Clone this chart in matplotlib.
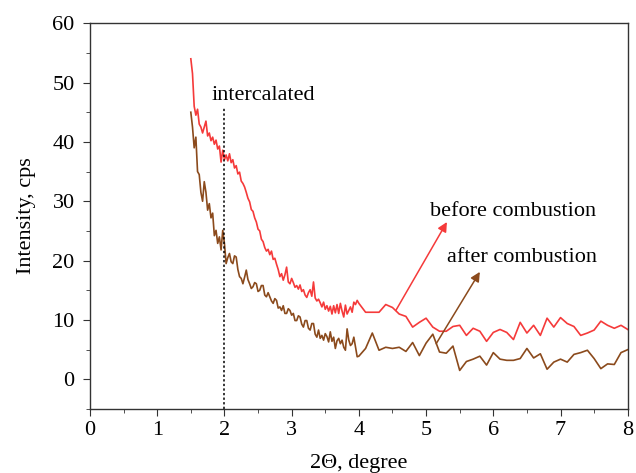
import numpy as np
import matplotlib
matplotlib.use("Agg")
import matplotlib.pyplot as plt
from matplotlib.ticker import MultipleLocator

plt.rcParams['font.family'] = ['Liberation Serif', 'DejaVu Serif']

# dense scan 1.5 - 4.0 deg, step 0.025
x_dense = np.linspace(1.5, 4.0, 101)
before_dense = [
    54.0, 51.5, 46.0, 44.5, 45.5, 43.0, 42.5, 41.5, 42.5, 43.5,
    41.0, 41.5, 40.2, 40.8, 39.6, 40.3, 38.8, 39.3, 36.6, 38.6,
    37.0, 37.8, 36.8, 38.0, 36.5, 37.0, 35.6, 36.0, 34.6, 34.9,
    33.4, 33.0, 32.4, 31.5, 30.5, 29.9, 28.6, 28.3, 27.2, 26.5,
    25.3, 25.0, 23.6, 23.2, 22.2, 21.6, 21.9, 21.0, 21.6, 20.2,
    20.4, 19.4, 18.5, 17.3, 17.8, 16.7, 17.6, 18.9, 16.4, 16.1,
    17.0, 16.3, 15.5, 15.8, 15.2, 15.9, 14.8, 15.1, 14.2, 13.8,
    14.6, 15.1, 14.0, 16.4, 13.7, 13.2, 13.5, 12.9, 12.2, 13.0,
    11.8, 12.4, 11.5, 12.3, 11.0, 12.4, 11.2, 12.6, 11.1, 12.8,
    11.5, 10.5, 12.5, 11.0, 11.6, 12.2, 11.3, 13.0, 12.6, 13.3,
    12.8]
after_dense = [
    45.0, 42.5, 39.0, 40.8, 35.0, 34.5, 31.5, 30.0, 33.3, 31.5,
    28.5, 29.6, 27.2, 28.0, 24.2, 25.1, 22.9, 24.0, 21.8, 25.1,
    22.9, 19.5, 20.5, 21.2, 19.8, 19.5, 20.8, 20.6, 18.5, 17.3,
    17.0, 16.1, 17.2, 18.4, 16.8, 16.1, 15.3, 15.6, 16.3, 16.1,
    14.8, 15.0, 15.8, 15.8, 14.2, 13.9, 14.6, 13.9, 13.2, 12.8,
    13.6, 13.3, 12.0, 12.2, 11.6, 12.4, 11.1, 11.1, 11.9, 11.6,
    10.8, 11.1, 9.9, 9.9, 10.7, 10.5, 9.3, 8.8, 9.9, 9.9,
    8.6, 8.3, 9.4, 9.4, 7.6, 7.1, 8.3, 6.9, 7.4, 6.6,
    7.7, 7.2, 6.3, 8.0, 6.4, 7.1, 5.2, 6.5, 6.9, 6.0,
    6.6, 5.4, 4.9, 8.5, 6.6, 5.7, 6.0, 7.1, 5.4, 3.8,
    3.9]

# coarse scan 4.1 - 8.0 deg, step 0.1
x_coarse = np.linspace(4.1, 8.0, 40)
before_coarse = [
    11.3, 11.3, 11.3, 12.6, 12.1, 11.0, 10.6, 8.8, 9.6, 10.3,
    8.8, 8.1, 8.1, 8.9, 9.1, 7.4, 8.6, 8.1, 6.4, 7.9,
    8.4, 7.9, 6.7, 9.6, 7.8, 9.1, 7.4, 10.3, 8.8, 10.4,
    9.4, 8.9, 7.4, 7.8, 8.3, 9.8, 9.1, 8.6, 9.1, 8.4]
after_coarse = [
    5.2, 7.8, 4.9, 5.4, 5.2, 5.4, 4.7, 6.2, 4.0, 6.1,
    7.6, 4.6, 4.4, 5.6, 1.5, 3.0, 3.4, 3.9, 2.4, 4.5,
    3.4, 3.2, 3.2, 3.5, 5.2, 3.6, 4.3, 1.7, 2.9, 3.4,
    2.9, 4.2, 4.5, 4.9, 3.5, 1.8, 2.6, 2.5, 4.5, 5.0]

x = np.concatenate([x_dense, x_coarse])
before = np.concatenate([before_dense, before_coarse])
after = np.concatenate([after_dense, after_coarse])

red = '#f53a3a'
brown = '#8b4a1c'

fig = plt.figure(figsize=(6.36, 4.73), dpi=100)
ax = fig.add_axes([0.1415, 0.1353, 0.8455, 0.8157])

ax.plot(x, after, color=brown, lw=1.2)
ax.plot(x, before, color=red, lw=1.2)

# intercalated marker
ax.plot([2, 2], [-5, 45.8], color='black', ls=(0, (1.5, 1.5)), lw=1.1)
ax.text(2.58, 47.8, 'intercalated', ha='center', va='center', fontsize=16)

ax.annotate('', xy=(5.31, 26.5), xytext=(4.55, 11.6),
            arrowprops=dict(arrowstyle='-|>', color=red, lw=1.1,
                            mutation_scale=14, shrinkA=0, shrinkB=0))
ax.text(6.29, 28.3, 'before combustion', ha='center', va='center', fontsize=16)
ax.annotate('', xy=(5.80, 18.1), xytext=(5.15, 6.0),
            arrowprops=dict(arrowstyle='-|>', color=brown, lw=1.1,
                            mutation_scale=14, shrinkA=0, shrinkB=0))
ax.text(6.42, 20.6, 'after combustion', ha='center', va='center', fontsize=16)

ax.set_xlim(0, 8)
ax.set_ylim(-5, 60)
ax.xaxis.set_major_locator(MultipleLocator(1))
ax.xaxis.set_minor_locator(MultipleLocator(0.5))
ax.yaxis.set_major_locator(MultipleLocator(10))
ax.yaxis.set_minor_locator(MultipleLocator(5))
ax.tick_params(which='both', direction='out', top=False, right=False,
               labelsize=16, color='#333333')
ax.tick_params(which='major', length=5)
ax.tick_params(which='minor', length=3)
ax.tick_params(axis='y', pad=6)
for s in ax.spines.values():
    s.set_color('#333333')
    s.set_linewidth(1.0)

ax.set_xlabel('2Θ, degree', fontsize=16, labelpad=10)
ax.set_ylabel('Intensity, cps', fontsize=16, labelpad=12)

fig.savefig('out.png', dpi=100)
